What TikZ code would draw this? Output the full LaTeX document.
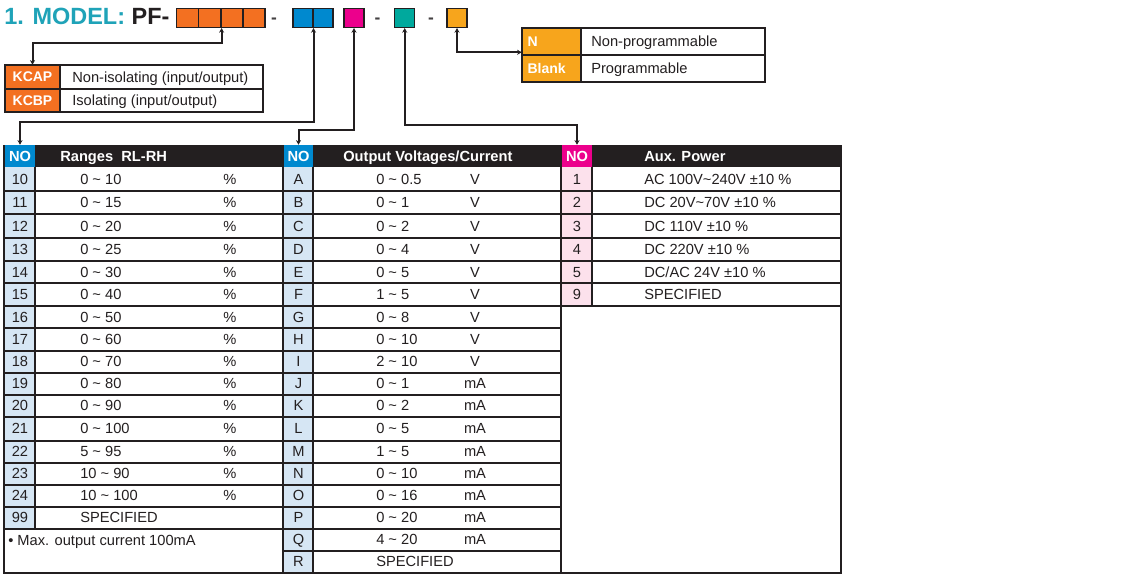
\documentclass[tikz,border=0pt]{standalone}
\usepackage{fontspec}
\setmainfont{Liberation Sans}
\usetikzlibrary{arrows.meta}
\definecolor{ink}{HTML}{231F20}
\definecolor{titleteal}{HTML}{1FA3B8}
\definecolor{orng}{HTML}{F37021}
\definecolor{blu}{HTML}{0089CF}
\definecolor{mag}{HTML}{EC008C}
\definecolor{tea}{HTML}{00A99D}
\definecolor{yel}{HTML}{F7A51C}
\definecolor{lblue}{HTML}{D6E6F4}
\definecolor{lpink}{HTML}{FCE1EC}
\newcommand\mytilde{\textasciitilde}
\begin{document}
\begin{tikzpicture}[x=0.75pt,y=-0.75pt,
  rule/.style={draw=ink,line width=1.5pt},
  thinrule/.style={draw=ink,line width=1.1pt},
  conn/.style={draw=ink,line width=1.5pt,{Stealth[length=3.5pt,width=3.8pt]}-{Stealth[length=3.5pt,width=3.8pt]}},
  codebox/.style={draw=ink,line width=1.1pt,minimum width=15pt,minimum height=14.25pt,inner sep=0pt},
  body/.style={font=\fontsize{11}{13}\selectfont,text=ink,inner sep=0pt,text height=7.9pt,text depth=0pt},
  bodyw/.style={body,anchor=west},
  head/.style={font=\bfseries\fontsize{11}{13}\selectfont,text=white,inner sep=0pt,text height=7.9pt,text depth=0pt,anchor=west},
  nohead/.style={font=\bfseries\fontsize{11}{13}\selectfont,text=white,inner sep=0pt,minimum width=22pt,minimum height=16.5pt},
  kcell/.style={fill=orng,font=\bfseries\fontsize{10.5}{12}\selectfont,text=white,inner sep=0pt,minimum width=41.25pt,minimum height=17.6pt},
  ncell/.style={fill=yel,font=\bfseries\fontsize{10.5}{12}\selectfont,text=white,inner sep=0pt,minimum width=44.25pt,minimum height=20.25pt,text width=36pt,align=left},
  dashmark/.style={font=\bfseries\fontsize{13}{15}\selectfont,text=ink!85,inner sep=0pt,anchor=base}
]
\useasboundingbox (0,0) rectangle (1122,578);
\fill[white] (0,0) rectangle (1122,578);

% ---------- title and code boxes ----------
\node[anchor=base west,font=\bfseries\fontsize{17.6}{20}\selectfont,inner sep=0pt,text=ink] (title) at (4,25) {\textcolor{titleteal}{1. MODEL:} PF-};
\node[codebox,fill=orng,minimum width=16.6pt] (o1) at (187.7,17.8) {};
\node[codebox,fill=orng,minimum width=16.6pt] (o2) at (209.8,17.8) {};
\node[codebox,fill=orng,minimum width=16.6pt] (o3) at (231.9,17.8) {};
\node[codebox,fill=orng,minimum width=16.6pt] (o4) at (254.0,17.8) {};
\node[dashmark] (d1) at (274,23) {-};
\node[codebox,fill=blu] (b1) at (302.8,17.8) {};
\node[codebox,fill=blu] (b2) at (322.8,17.8) {};
\node[codebox,fill=mag] (m) at (354,17.8) {};
\node[dashmark] (d2) at (377.5,23) {-};
\node[codebox,fill=tea] (t) at (404.7,17.8) {};
\node[dashmark] (d3) at (431,23) {-};
\node[codebox,fill=yel] (y) at (457,17.8) {};

% ---------- KCAP table ----------
\node[kcell] (kcap) at (32.5,76.75) {KCAP};
\node[kcell] (kcbp) at (32.5,100.25) {KCBP};
\draw[rule] (5,65) rectangle (263,112);
\draw[rule] (5,88.5) -- (263,88.5);
\draw[thinrule] (60,65) -- (60,112);
\node[bodyw] (kd1) at (72,76.75) {Non-isolating (input/output)};
\node[bodyw] (kd2) at (72,100.25) {Isolating (input/output)};

% ---------- N / Blank table ----------
\node[ncell] (nN) at (551.5,41.5) {N};
\node[ncell] (nB) at (551.5,68.5) {Blank};
\draw[rule] (522,28) rectangle (765,82);
\draw[rule] (522,55) -- (765,55);
\draw[thinrule] (581,28) -- (581,82);
\node[bodyw] (nd1) at (591,41.5) {Non-programmable};
\node[bodyw] (nd2) at (591,68.5) {Programmable};

% ---------- main tables: fills ----------
\fill[ink] (4,145) rectangle (841,167);
\fill[lblue] (5,167) rectangle (35,528.5);
\fill[lblue] (284,167) rectangle (313,572.5);
\fill[lpink] (562,167) rectangle (592,306);
\node[nohead,fill=blu] (no1) at (20,156) {NO};
\node[nohead,fill=blu] (no2) at (298.5,156) {NO};
\node[nohead,fill=mag] (no3) at (577,156) {NO};
\node[head] (h1) at (60,156) {Ranges\ \ RL-RH};
\node[head] (h2) at (343,156) {Output Voltages/Current};
\node[head] (h3) at (644,156) {Aux. Power};

% ---------- main tables: rules ----------
\foreach \yy in {190.5,214,237.5,260.5,283,306,327.5,350.5,372.5,394.5,416.5,440.5,462.5,484.5,506.5,528.5}
  \draw[rule] (4,\yy) -- (561,\yy);
\draw[rule] (283,550.5) -- (561,550.5);
\foreach \yy in {190.5,214,237.5,260.5,283,306}
  \draw[rule] (561,\yy) -- (841,\yy);
\draw[rule] (4,145) -- (4,572.5) -- (841,572.5) -- (841,145);
\draw[rule] (283,145) -- (283,572.5);
\draw[rule] (561,145) -- (561,572.5);
\draw[rule] (35,167) -- (35,528.5);
\draw[rule] (313,167) -- (313,572.5);
\draw[rule] (592,167) -- (592,306);

% ---------- table 1 ----------
\foreach \t/\b/\n/\r/\u [count=\i] in {
 167/190.5/10/0 \mytilde{} 10/\%,
 190.5/214/11/0 \mytilde{} 15/\%,
 214/237.5/12/0 \mytilde{} 20/\%,
 237.5/260.5/13/0 \mytilde{} 25/\%,
 260.5/283/14/0 \mytilde{} 30/\%,
 283/306/15/0 \mytilde{} 40/\%,
 306/327.5/16/0 \mytilde{} 50/\%,
 327.5/350.5/17/0 \mytilde{} 60/\%,
 350.5/372.5/18/0 \mytilde{} 70/\%,
 372.5/394.5/19/0 \mytilde{} 80/\%,
 394.5/416.5/20/0 \mytilde{} 90/\%,
 416.5/440.5/21/0 \mytilde{} 100/\%,
 440.5/462.5/22/5 \mytilde{} 95/\%,
 462.5/484.5/23/10 \mytilde{} 90/\%,
 484.5/506.5/24/10 \mytilde{} 100/\%}
{
 \node[body] (ano\i) at (20,{(\t+\b)/2}) {\n};
 \node[bodyw] (arng\i) at (80,{(\t+\b)/2}) {\r};
 \node[body] (aunit\i) at (230,{(\t+\b)/2}) {\u};
}
\node[body] (ano16) at (20,517.5) {99};
\node[bodyw] (arng16) at (80,517.5) {SPECIFIED};
\node[bodyw] (note) at (8,540) {• Max. output current 100mA};

% ---------- table 2 ----------
\foreach \t/\b/\n/\r/\u [count=\i] in {
 167/190.5/A/0 \mytilde{} 0.5/V,
 190.5/214/B/0 \mytilde{} 1/V,
 214/237.5/C/0 \mytilde{} 2/V,
 237.5/260.5/D/0 \mytilde{} 4/V,
 260.5/283/E/0 \mytilde{} 5/V,
 283/306/F/1 \mytilde{} 5/V,
 306/327.5/G/0 \mytilde{} 8/V,
 327.5/350.5/H/0 \mytilde{} 10/V,
 350.5/372.5/I/2 \mytilde{} 10/V,
 372.5/394.5/J/0 \mytilde{} 1/mA,
 394.5/416.5/K/0 \mytilde{} 2/mA,
 416.5/440.5/L/0 \mytilde{} 5/mA,
 440.5/462.5/M/1 \mytilde{} 5/mA,
 462.5/484.5/N/0 \mytilde{} 10/mA,
 484.5/506.5/O/0 \mytilde{} 16/mA,
 506.5/528.5/P/0 \mytilde{} 20/mA,
 528.5/550.5/Q/4 \mytilde{} 20/mA}
{
 \node[body] (bno\i) at (298.5,{(\t+\b)/2}) {\n};
 \node[bodyw] (brng\i) at (376,{(\t+\b)/2}) {\r};
 \node[body] (bunit\i) at (475,{(\t+\b)/2}) {\u};
}
\node[body] (bno18) at (298.5,561.5) {R};
\node[bodyw] (brng18) at (376,561.5) {SPECIFIED};

% ---------- table 3 ----------
\foreach \t/\b/\n/\r [count=\i] in {
 167/190.5/1/AC 100V\mytilde{}240V ±10 \%,
 190.5/214/2/DC 20V\mytilde{}70V ±10 \%,
 214/237.5/3/DC 110V ±10 \%,
 237.5/260.5/4/DC 220V ±10 \%,
 260.5/283/5/{DC/AC 24V ±10 \%},
 283/306/9/SPECIFIED}
{
 \node[body] (cno\i) at (577,{(\t+\b)/2}) {\n};
 \node[bodyw] (ctxt\i) at (644,{(\t+\b)/2}) {\r};
}

% ---------- connectors ----------
\draw[conn] (o2.south east) -- ++(0,14.5) -| (kcap.north);
\draw[conn] (b1.south east) -- ++(0,93.5) -| (no1.north);
\draw[conn] (m.south) -- ++(0,102) -| (no2.north);
\draw[conn] (t.south) -- ++(0,97) -| (no3.north);
\draw[conn] (y.south) |- ([yshift=2.25pt]nN.south west);
\end{tikzpicture}
\end{document}
